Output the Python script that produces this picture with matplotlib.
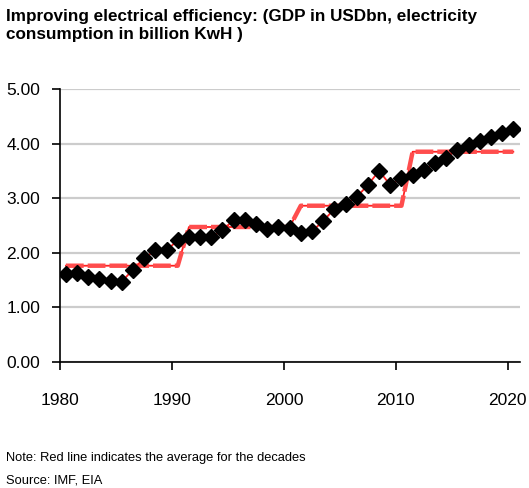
import numpy as np
import matplotlib
matplotlib.use('Agg')
import matplotlib.pyplot as plt

plt.rcParams['font.family'] = ['Liberation Sans', 'DejaVu Sans']

# GDP (USDbn) per billion KwH of electricity consumption
years = np.arange(1980, 2021)
efficiency = [1.61, 1.63, 1.56, 1.52, 1.48, 1.47, 1.69, 1.90, 2.04, 2.04,
              2.23, 2.29, 2.29, 2.28, 2.41, 2.60, 2.60, 2.52, 2.44, 2.47,
              2.46, 2.36, 2.39, 2.58, 2.80, 2.90, 3.02, 3.24, 3.50, 3.24,
              3.36, 3.42, 3.52, 3.64, 3.74, 3.89, 3.97, 4.05, 4.12, 4.19,
              4.26]

# decade averages and how many years each one covers
decade_avg = [1.76, 2.47, 2.86, 3.85]
decade_len = [11, 10, 10, 10]
avg_line = np.repeat(decade_avg, decade_len)

xpos = years + 0.5  # points sit mid-year on the date axis

fig = plt.figure(figsize=(5.29, 4.88), dpi=100)
ax = fig.add_axes([0.114, 0.2588, 0.869, 0.5588])

ax.plot(xpos, avg_line, color='#ff2020', lw=1.3, zorder=2)
ax.plot(xpos, avg_line, color='#ff4d4d', lw=3.2, dashes=(4, 0.9), zorder=2)
ax.plot(xpos, efficiency, color='#ff2020', lw=1.3, marker='D', ms=8.5,
        mfc='black', mec='black', zorder=3)

ax.set_xlim(1980, 2021.1)
ax.set_ylim(0, 5)
ax.set_xticks([1980, 1990, 2000, 2010, 2020])
ax.set_yticks(np.arange(0, 5.01, 1))
ax.yaxis.set_major_formatter(matplotlib.ticker.FormatStrFormatter('%.2f'))
ax.grid(axis='y', color='#cccccc', lw=1.6)
ax.set_axisbelow(True)

for s in ['top', 'right']:
    ax.spines[s].set_visible(False)
for s in ['left', 'bottom']:
    ax.spines[s].set_linewidth(1.2)
ax.tick_params(axis='x', length=5.5, width=1.2, pad=17, labelsize=12.5)
ax.tick_params(axis='y', length=5.5, width=1.2, pad=9, labelsize=12.5)

fig.text(0.011, 0.982, 'Improving electrical efficiency: (GDP in USDbn, electricity\n'
         'consumption in billion KwH )', fontsize=12.3, fontweight='bold',
         va='top', linespacing=1.3)
fig.text(0.011, 0.061, 'Note: Red line indicates the average for the decades',
         fontsize=9.3, va='center')
fig.text(0.011, 0.016, 'Source: IMF, EIA', fontsize=9.3, va='center')

fig.savefig('out.png', dpi=100)
